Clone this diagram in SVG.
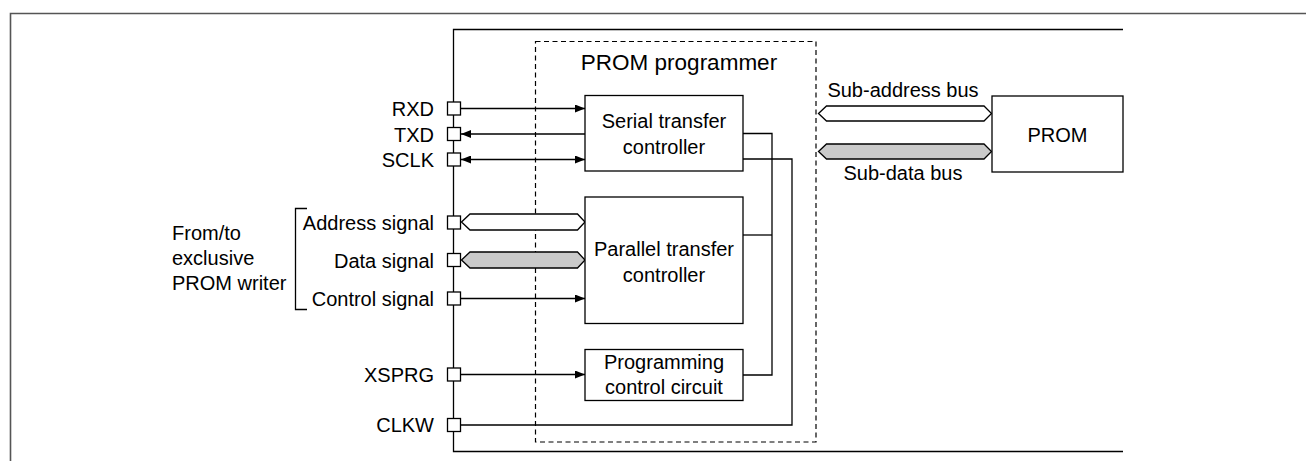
<svg xmlns="http://www.w3.org/2000/svg" width="1306" height="461" viewBox="0 0 1306 461">
<defs>
<marker id="ah" viewBox="0 0 10 8" refX="10" refY="4" markerWidth="10" markerHeight="8" markerUnits="userSpaceOnUse" orient="auto-start-reverse">
<path d="M0,0 L10,4 L0,8 Z" fill="#000"/>
</marker>
<style>
text{font-family:"Liberation Sans",Arial,sans-serif;font-size:20px;fill:#000}
.ln{fill:none;stroke:#000;stroke-width:1.3}
.box{fill:#fff;stroke:#000;stroke-width:1.3}
.pin{fill:#fff;stroke:#000;stroke-width:1.3}
.bus{fill:#fff;stroke:#000;stroke-width:1.3}
.bus.g{fill:#cacaca}
.e{text-anchor:end}
.m{text-anchor:middle}
</style>
</defs>
<rect width="1306" height="461" fill="#fff"/>
<g id="frame">
<path d="M10.5,461 V13.5 H1306" fill="none" stroke="#555" stroke-width="1.6"/>
</g>
<g id="chip">
<path d="M1123,29.5 H453.5 V451.5 H1123" class="ln"/>
</g>
<g id="prom-programmer">
<rect x="535.5" y="41.5" width="280.5" height="400.5" fill="none" stroke="#000" stroke-width="1.2" stroke-dasharray="5,3.5"/>
<text x="679" y="70" class="m" style="font-size:22.5px">PROM programmer</text>
</g>
<g id="connectors">
<path d="M461,108.5 H585" class="ln" marker-end="url(#ah)"/>
<path d="M585,134 H461" class="ln" marker-end="url(#ah)"/>
<path d="M461,159.5 H585" class="ln" marker-start="url(#ah)" marker-end="url(#ah)"/>
<path d="M461,298.5 H585" class="ln" marker-end="url(#ah)"/>
<path d="M461,374.5 H585" class="ln" marker-end="url(#ah)"/>
<path d="M461,425 H792 V159 H743" class="ln"/>
<path d="M743,133.5 H772 V375 H743" class="ln"/>
<path d="M743,235 H772" class="ln"/>
<polygon class="bus" points="461.5,222 470,214 577.5,214 585,222 577.5,230 470,230"/>
<polygon class="bus g" points="461.5,260 470,252 577.5,252 585,260 577.5,268 470,268"/>
<polygon class="bus" points="818.5,113.5 826.5,106 984,106 991.5,113.5 984,121 826.5,121"/>
<polygon class="bus g" points="818.5,151.5 826.5,144 984,144 991.5,151.5 984,159 826.5,159"/>
<path d="M307,208.5 H295.5 V309.5 H307" class="ln"/>
</g>
<g id="serial">
<rect x="585" y="95.5" width="158" height="75.5" class="box"/>
<text x="664" y="128" class="m">Serial transfer</text>
<text x="664" y="154" class="m">controller</text>
</g>
<g id="parallel">
<rect x="585" y="197" width="158" height="126.5" class="box"/>
<text x="664" y="255.5" class="m">Parallel transfer</text>
<text x="664" y="281.5" class="m">controller</text>
</g>
<g id="progctl">
<rect x="585" y="349.5" width="158" height="51" class="box"/>
<text x="664" y="368.5" class="m">Programming</text>
<text x="664" y="393.5" class="m">control circuit</text>
</g>
<g id="prom">
<rect x="992" y="96" width="131" height="76" class="box"/>
<text x="1057.5" y="141.5" class="m">PROM</text>
</g>
<g id="pins">
<rect x="447.5" y="102" width="13" height="13" class="pin"/>
<rect x="447.5" y="127.5" width="13" height="13" class="pin"/>
<rect x="447.5" y="153" width="13" height="13" class="pin"/>
<rect x="447.5" y="216" width="13" height="13" class="pin"/>
<rect x="447.5" y="253.5" width="13" height="13" class="pin"/>
<rect x="447.5" y="292" width="13" height="13" class="pin"/>
<rect x="447.5" y="368" width="13" height="13" class="pin"/>
<rect x="447.5" y="418.5" width="13" height="13" class="pin"/>
</g>
<g id="labels">
<text x="434" y="116" class="e">RXD</text>
<text x="434" y="141.5" class="e">TXD</text>
<text x="434" y="166.5" class="e">SCLK</text>
<text x="434" y="230" class="e">Address signal</text>
<text x="434" y="267.5" class="e">Data signal</text>
<text x="434" y="305.5" class="e">Control signal</text>
<text x="434" y="381.5" class="e">XSPRG</text>
<text x="434" y="432" class="e">CLKW</text>
<text x="172" y="240">From/to</text>
<text x="172" y="265">exclusive</text>
<text x="172" y="290">PROM writer</text>
<text x="903" y="97" class="m">Sub-address bus</text>
<text x="903" y="180" class="m">Sub-data bus</text>
</g>
</svg>
